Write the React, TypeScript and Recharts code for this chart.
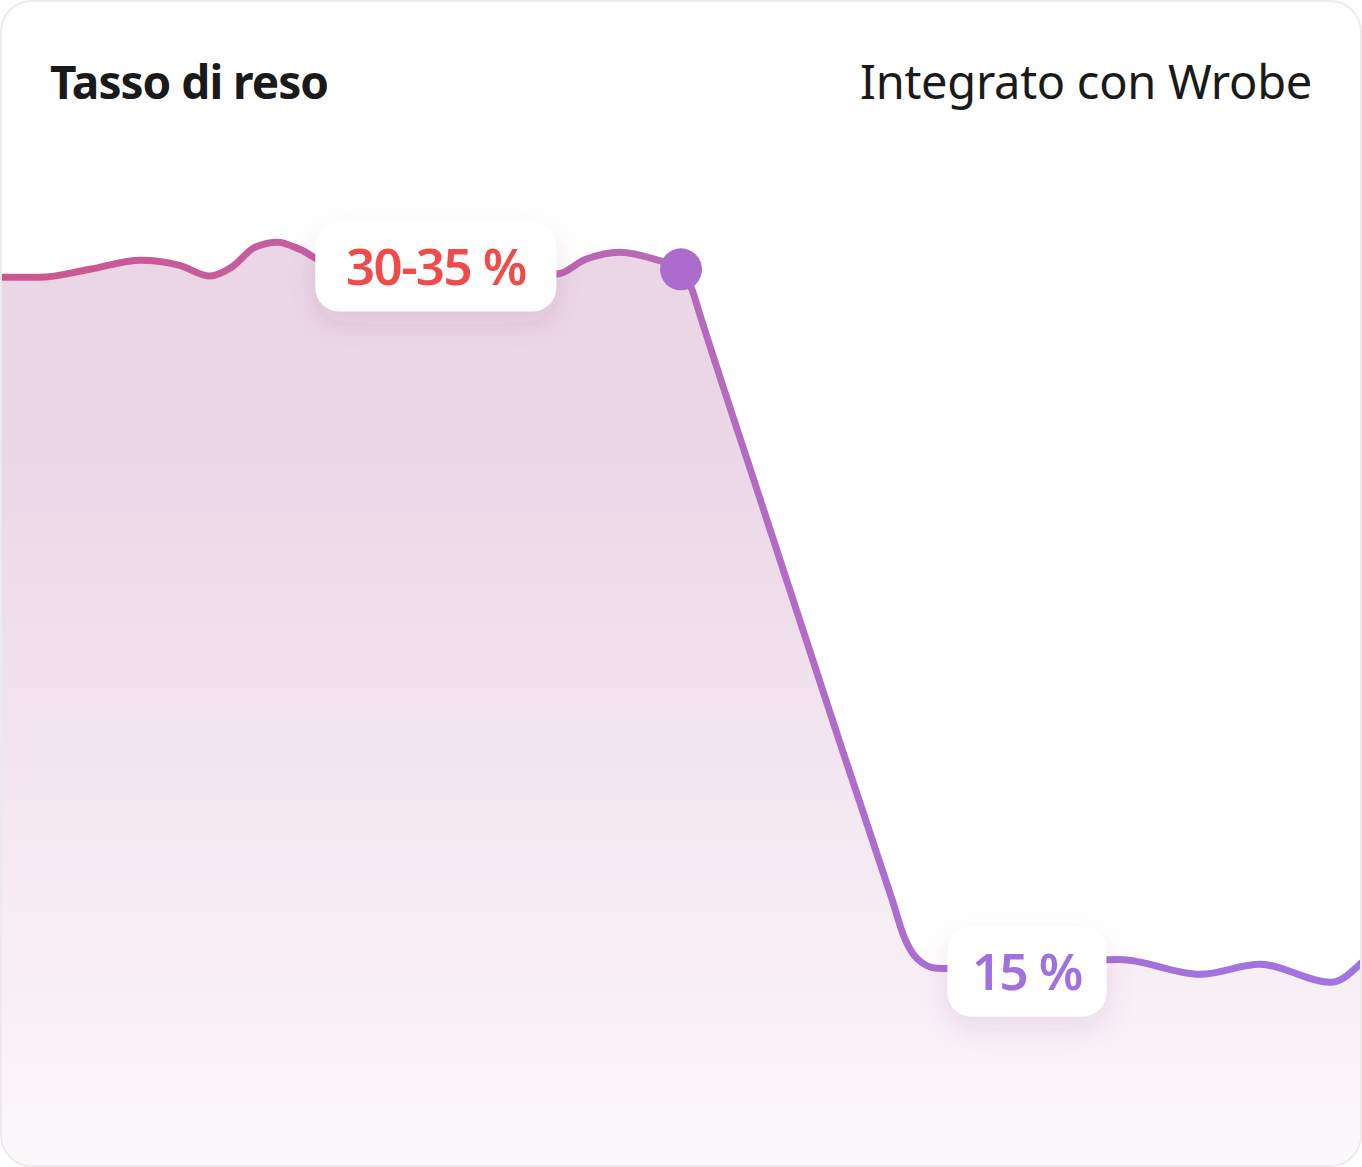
import React from 'react';
import { ComposedChart, Area, Line, XAxis, YAxis, ReferenceDot } from 'recharts';

// position along the period (0-100) and return rate (%)
const positions = [0, 2.9, 6.6, 10.3, 13.2, 15.4, 17.0, 18.7, 20.4, 22.0, 24.2, 32.3, 40.9, 43.0, 45.5, 48.1, 50.0, 50.8, 51.4, 55.8, 61.7, 65.5, 66.4, 67.4, 68.8, 70.0, 75.6, 82.2, 88.1, 92.5, 97.7, 100];
const returnRate = [32.3, 32.3, 32.5, 32.73, 32.6, 32.33, 32.55, 33.05, 33.18, 33.0, 32.63, 32.45, 32.38, 32.75, 32.93, 32.75, 32.5, 32.0, 31.35, 26.75, 20.6, 16.7, 15.75, 15.2, 14.98, 14.97, 15.1, 15.2, 14.83, 15.08, 14.63, 15.13];

const beforeLabel = '30-35 %';
const afterLabel = '15 %';

const data = positions.map((p, i) => ({ pos: p, rate: returnRate[i] }));

const W = 1362;
const H = 1167;
const FONT = '"Noto Sans", "Open Sans", sans-serif';

function Badge({ cx, cy, text, color, w }: any) {
  const h = 90;
  return (
    <g>
      <rect x={cx - w / 2} y={cy - h / 2} width={w} height={h} rx={24} fill="#fff" filter="url(#badgeShadow)" />
      <text x={cx} y={cy + 18} textAnchor="middle" fontFamily={FONT} fontWeight={600} fontSize={51} fill={color} letterSpacing={-1.6}>
        {text}
      </text>
    </g>
  );
}

export default function App() {
  return (
    <div style={{ position: 'absolute', left: 0, top: 0, width: W, height: H }}>
      <div
        style={{
          position: 'relative', width: W - 4, height: H - 4, margin: 0,
          border: '2px solid #ebebeb', borderRadius: 32, overflow: 'hidden', background: '#fff',
        }}
      >
        <div style={{ position: 'absolute', left: -2, top: -2 }}>
          <ComposedChart width={W} height={H} data={data} margin={{ top: 0, right: 0, bottom: 0, left: 0 }}>
            <defs>
              <linearGradient id="areaFill" x1="0" y1="0" x2="0" y2="1">
                <stop offset="20%" stopColor="#ebd6e5" />
                <stop offset="100%" stopColor="#fcf8fc" />
              </linearGradient>
              <linearGradient id="lineStroke" x1="0" y1="0" x2="1" y2="0">
                <stop offset="0%" stopColor="#cd568d" />
                <stop offset="45%" stopColor="#b968b6" />
                <stop offset="70%" stopColor="#a96fd2" />
                <stop offset="100%" stopColor="#a074e3" />
              </linearGradient>
              <filter id="badgeShadow" x="-30%" y="-40%" width="160%" height="200%">
                <feDropShadow dx="0" dy="12" stdDeviation="14" floodColor="#7a3d6e" floodOpacity="0.12" />
              </filter>
            </defs>
            <XAxis dataKey="pos" type="number" domain={[0, 100]} hide />
            <YAxis type="number" domain={[10, 39.25]} hide />
            <Area type="monotone" dataKey="rate" stroke="none" fill="url(#areaFill)" fillOpacity={1} isAnimationActive={false} />
            <Line type="monotone" dataKey="rate" stroke="url(#lineStroke)" strokeWidth={7} strokeLinecap="round" dot={false} activeDot={false} isAnimationActive={false} />
            <ReferenceDot x={50.0} y={32.5} r={21} fill="#ad6bcc" stroke="none" />
            <ReferenceDot x={32.0} y={32.57} r={0} shape={(p: any) => <Badge cx={p.cx} cy={p.cy} text={beforeLabel} color="#f04a4a" w={241} />} />
            <ReferenceDot x={75.4} y={14.9} r={0} shape={(p: any) => <Badge cx={p.cx} cy={p.cy} text={afterLabel} color="#a06fe0" w={159} />} />
          </ComposedChart>
        </div>
        <div style={{ position: 'absolute', left: 48, top: 49, fontFamily: FONT, fontWeight: 700, fontSize: 46, color: '#1a1a1a', letterSpacing: -1, lineHeight: '60px' }}>
          Tasso di reso
        </div>
        <div style={{ position: 'absolute', right: 48, top: 49, fontFamily: FONT, fontWeight: 400, fontSize: 47, color: '#1a1a1a', letterSpacing: -0.3, lineHeight: '60px' }}>
          Integrato con Wrobe
        </div>
      </div>
    </div>
  );
}
